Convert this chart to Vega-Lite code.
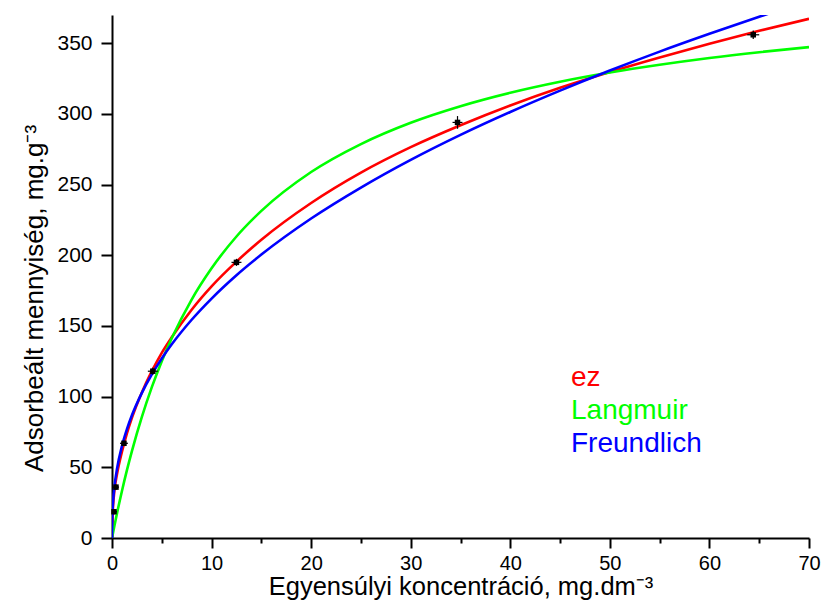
{
  "$schema": "https://vega.github.io/schema/vega-lite/v6.json",
  "width": 697,
  "height": 523,
  "autosize": {"type": "none"},
  "padding": {"left": 112, "top": 15, "right": 16, "bottom": 74},
  "background": "white",
  "config": {
    "view": {"stroke": null},
    "font": "Liberation Sans",
    "axis": {
      "grid": false,
      "domainColor": "black",
      "domainWidth": 2,
      "tickColor": "black",
      "tickWidth": 2,
      "labelColor": "black",
      "titleColor": "black",
      "labelFont": "Liberation Sans",
      "titleFont": "Liberation Sans",
      "titleFontWeight": "normal",
      "labelFlush": false,
      "labelOverlap": false
    }
  },
  "datasets": {
    "curves": [
      {"C": 0, "q": 0, "model": "ez"},
      {"C": 0.05, "q": 15, "model": "ez"},
      {"C": 0.1, "q": 22, "model": "ez"},
      {"C": 0.25, "q": 34, "model": "ez"},
      {"C": 0.5, "q": 45, "model": "ez"},
      {"C": 1, "q": 61, "model": "ez"},
      {"C": 1.5, "q": 74, "model": "ez"},
      {"C": 2, "q": 85, "model": "ez"},
      {"C": 3, "q": 103, "model": "ez"},
      {"C": 4, "q": 118, "model": "ez"},
      {"C": 5, "q": 131, "model": "ez"},
      {"C": 6, "q": 142, "model": "ez"},
      {"C": 8, "q": 161.5, "model": "ez"},
      {"C": 10, "q": 178, "model": "ez"},
      {"C": 12.5, "q": 195.5, "model": "ez"},
      {"C": 15, "q": 211, "model": "ez"},
      {"C": 20, "q": 237, "model": "ez"},
      {"C": 25, "q": 258.5, "model": "ez"},
      {"C": 30, "q": 276.5, "model": "ez"},
      {"C": 35, "q": 292, "model": "ez"},
      {"C": 40, "q": 306, "model": "ez"},
      {"C": 45, "q": 318.5, "model": "ez"},
      {"C": 50, "q": 329.7, "model": "ez"},
      {"C": 55, "q": 340, "model": "ez"},
      {"C": 60, "q": 349.7, "model": "ez"},
      {"C": 65, "q": 358.8, "model": "ez"},
      {"C": 70, "q": 367.3, "model": "ez"},
      {"C": 0, "q": 0, "model": "Langmuir"},
      {"C": 0.1, "q": 3.6, "model": "Langmuir"},
      {"C": 0.25, "q": 8.9, "model": "Langmuir"},
      {"C": 0.5, "q": 17.4, "model": "Langmuir"},
      {"C": 1, "q": 33.3, "model": "Langmuir"},
      {"C": 1.5, "q": 48.0, "model": "Langmuir"},
      {"C": 2, "q": 61.5, "model": "Langmuir"},
      {"C": 3, "q": 85.7, "model": "Langmuir"},
      {"C": 4, "q": 106.7, "model": "Langmuir"},
      {"C": 5, "q": 125.1, "model": "Langmuir"},
      {"C": 6, "q": 141.3, "model": "Langmuir"},
      {"C": 8, "q": 168.7, "model": "Langmuir"},
      {"C": 10, "q": 190.8, "model": "Langmuir"},
      {"C": 12.5, "q": 213.3, "model": "Langmuir"},
      {"C": 15, "q": 231.4, "model": "Langmuir"},
      {"C": 20, "q": 258.9, "model": "Langmuir"},
      {"C": 25, "q": 278.7, "model": "Langmuir"},
      {"C": 30, "q": 293.8, "model": "Langmuir"},
      {"C": 35, "q": 305.5, "model": "Langmuir"},
      {"C": 40, "q": 315.0, "model": "Langmuir"},
      {"C": 45, "q": 322.8, "model": "Langmuir"},
      {"C": 50, "q": 329.3, "model": "Langmuir"},
      {"C": 55, "q": 334.8, "model": "Langmuir"},
      {"C": 60, "q": 339.6, "model": "Langmuir"},
      {"C": 65, "q": 343.7, "model": "Langmuir"},
      {"C": 70, "q": 347.3, "model": "Langmuir"},
      {"C": 0, "q": 0, "model": "Freundlich"},
      {"C": 0.02, "q": 12.8, "model": "Freundlich"},
      {"C": 0.05, "q": 18.7, "model": "Freundlich"},
      {"C": 0.1, "q": 25.0, "model": "Freundlich"},
      {"C": 0.25, "q": 36.6, "model": "Freundlich"},
      {"C": 0.5, "q": 48.8, "model": "Freundlich"},
      {"C": 1, "q": 65.1, "model": "Freundlich"},
      {"C": 1.5, "q": 77.0, "model": "Freundlich"},
      {"C": 2, "q": 86.8, "model": "Freundlich"},
      {"C": 3, "q": 102.7, "model": "Freundlich"},
      {"C": 4, "q": 115.8, "model": "Freundlich"},
      {"C": 5, "q": 127.0, "model": "Freundlich"},
      {"C": 6, "q": 137.0, "model": "Freundlich"},
      {"C": 8, "q": 154.4, "model": "Freundlich"},
      {"C": 10, "q": 169.4, "model": "Freundlich"},
      {"C": 12.5, "q": 185.9, "model": "Freundlich"},
      {"C": 15, "q": 200.5, "model": "Freundlich"},
      {"C": 20, "q": 226.0, "model": "Freundlich"},
      {"C": 25, "q": 247.9, "model": "Freundlich"},
      {"C": 30, "q": 267.5, "model": "Freundlich"},
      {"C": 35, "q": 285.2, "model": "Freundlich"},
      {"C": 40, "q": 301.4, "model": "Freundlich"},
      {"C": 45, "q": 316.5, "model": "Freundlich"},
      {"C": 50, "q": 330.7, "model": "Freundlich"},
      {"C": 55, "q": 344.1, "model": "Freundlich"},
      {"C": 60, "q": 356.7, "model": "Freundlich"},
      {"C": 65, "q": 368.8, "model": "Freundlich"},
      {"C": 70, "q": 380.3, "model": "Freundlich"}
    ],
    "points": [
      {"C": 0.2, "q": 18.6, "qLow": 16.6, "qHigh": 20.6, "CLow": 0, "CHigh": 0.5},
      {"C": 0.4, "q": 36, "qLow": 34, "qHigh": 38, "CLow": 0.1, "CHigh": 0.7},
      {"C": 1.2, "q": 67, "qLow": 65, "qHigh": 69, "CLow": 0.8, "CHigh": 1.6},
      {"C": 4.1, "q": 118, "qLow": 115.5, "qHigh": 120.5, "CLow": 3.6, "CHigh": 4.6},
      {"C": 12.5, "q": 195, "qLow": 192.5, "qHigh": 197.5, "CLow": 12.0, "CHigh": 13.0},
      {"C": 34.7, "q": 294, "qLow": 289.5, "qHigh": 298.5, "CLow": 34.2, "CHigh": 35.2},
      {"C": 64.4, "q": 356, "qLow": 353, "qHigh": 359, "CLow": 63.8, "CHigh": 65.0}
    ]
  },
  "layer": [
    {
      "data": {"name": "curves"},
      "mark": {"type": "line", "interpolate": "monotone", "strokeWidth": 2.6, "clip": true},
      "encoding": {
        "x": {
          "field": "C", "type": "quantitative",
          "scale": {"domain": [0, 70], "nice": false},
          "axis": {
            "title": "Egyensúlyi koncentráció, mg.dm⁻³",
            "titleFontSize": 25.5,
            "labelFontSize": 20,
            "values": [0, 5, 10, 15, 20, 25, 30, 35, 40, 45, 50, 55, 60, 65, 70],
            "labelExpr": "datum.value % 10 === 0 ? datum.label : ''",
            "tickSize": {"condition": {"test": "datum.value % 10 === 0", "value": 10}, "value": 5},
            "labelPadding": 5,
            "titlePadding": 1
          }
        },
        "y": {
          "field": "q", "type": "quantitative",
          "scale": {"domain": [0, 370], "nice": false},
          "axis": {
            "title": "Adsorbeált mennyiség, mg.g⁻³",
            "titleFontSize": 26,
            "labelFontSize": 21,
            "values": [0, 25, 50, 75, 100, 125, 150, 175, 200, 225, 250, 275, 300, 325, 350],
            "labelExpr": "datum.value % 50 === 0 ? datum.label : ''",
            "tickSize": {"condition": {"test": "datum.value % 50 === 0", "value": 11}, "value": 5},
            "labelPadding": 9,
            "titlePadding": 9,
            "titleY": 283
          }
        },
        "color": {
          "field": "model", "type": "nominal",
          "scale": {"domain": ["ez", "Langmuir", "Freundlich"], "range": ["#ff0000", "#00ff00", "#0000ff"]},
          "legend": {
            "title": null,
            "orient": "none",
            "legendX": 431,
            "legendY": 349,
            "labelFont": "Liberation Sans",
            "labelFontSize": 28,
            "symbolOpacity": 0,
            "symbolSize": 0,
            "symbolStrokeWidth": 0,
            "labelOffset": 0,
            "rowPadding": 5,
            "encode": {"labels": {"update": {"fill": {"scale": "color", "field": "value"}}}}
          }
        }
      }
    },
    {
      "data": {"name": "points"},
      "mark": {"type": "rule", "color": "black", "strokeWidth": 1.2},
      "encoding": {
        "x": {"field": "C", "type": "quantitative"},
        "y": {"field": "qLow", "type": "quantitative"},
        "y2": {"field": "qHigh"}
      }
    },
    {
      "data": {"name": "points"},
      "mark": {"type": "rule", "color": "black", "strokeWidth": 1.2},
      "encoding": {
        "x": {"field": "CLow", "type": "quantitative"},
        "x2": {"field": "CHigh"},
        "y": {"field": "q", "type": "quantitative"}
      }
    },
    {
      "data": {"name": "points"},
      "mark": {"type": "point", "shape": "square", "filled": true, "color": "black", "size": 30, "opacity": 1},
      "encoding": {
        "x": {"field": "C", "type": "quantitative"},
        "y": {"field": "q", "type": "quantitative"}
      }
    }
  ]
}
